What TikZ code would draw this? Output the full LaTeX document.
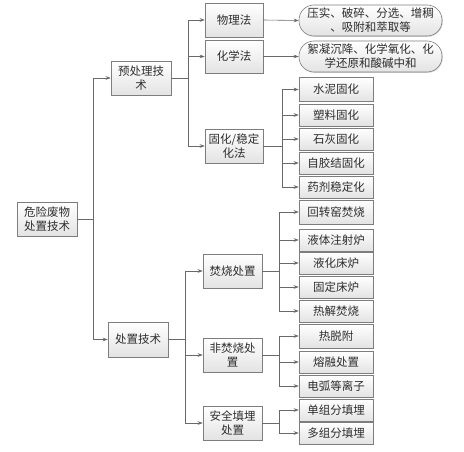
\documentclass[tikz,border=0pt]{standalone}
\usepackage{fontspec}
\newfontfamily\cjk{Noto Sans CJK SC}
\usetikzlibrary{arrows.meta,shadows}
\definecolor{lc}{RGB}{105,105,105}
\definecolor{bc}{RGB}{125,125,125}
\definecolor{tc}{RGB}{45,45,45}
\begin{document}
\begin{tikzpicture}[x=1pt,y=-1pt,
  box/.style={draw=bc, line width=0.6pt, top color=white, bottom color=gray!22,
    text=tc, font=\cjk\fontsize{11.5}{14}\selectfont, align=center, inner sep=0pt,
    drop shadow={shadow xshift=0.8pt, shadow yshift=-0.8pt, fill=gray!45, opacity=0.7}},
  mid/.style={box, minimum width=59pt, minimum height=34pt},
  leaf/.style={box, minimum width=74pt, minimum height=22pt},
  pill/.style={box, rounded corners=15pt, minimum width=143pt, minimum height=31pt},
  conn/.style={draw=lc, line width=0.6pt, -{Stealth[length=5pt,width=3.6pt]}}
]
\useasboundingbox (0,0) rectangle (464,452);

% level 0
\node[mid, minimum width=60pt] (root) at (47,219) {危险废物\\处置技术};

% level 1
\node[mid, minimum width=60pt] (pre) at (141,78) {预处理技\\术};
\node[mid, minimum width=60pt, minimum height=35pt] (disp) at (138,339.5) {处置技术};

% level 2 (pretreatment)
\node[mid, minimum width=58pt] (phys) at (234,20) {物理法};
\node[mid, minimum width=58pt, minimum height=33pt] (chem) at (234,56.5) {化学法};
\node[mid, minimum width=58pt] (solid) at (234,146) {固化/稳定\\化法};

% level 2 (disposal)
\node[mid] (burn) at (232.5,271) {焚烧处置};
\node[mid] (nonburn) at (232.5,355) {非焚烧处\\置};
\node[mid] (land) at (232.5,423) {安全填埋\\处置};

% pills
\node[pill] (p1) at (370.5,20.5) {压实、破碎、分选、增稠\\、吸附和萃取等};
\node[pill] (p2) at (370.5,56.5) {絮凝沉降、化学氧化、化\\学还原和酸碱中和};

% leaves
\node[leaf, minimum height=24pt] (s1) at (336,89.5) {水泥固化};
\node[leaf] (s2) at (336,115) {塑料固化};
\node[leaf] (s3) at (336,139) {石灰固化};
\node[leaf] (s4) at (336,163) {自胶结固化};
\node[leaf] (s5) at (336,187) {药剂稳定化};

\node[leaf, minimum height=24pt] (b1) at (336,212) {回转窑焚烧};
\node[leaf] (b2) at (336,240) {液体注射炉};
\node[leaf] (b3) at (336,263) {液化床炉};
\node[leaf] (b4) at (336,287) {固定床炉};
\node[leaf] (b5) at (336,311) {热解焚烧};

\node[leaf, minimum height=24pt] (n1) at (336,336) {热脱附};
\node[leaf] (n2) at (336,362) {熔融处置};
\node[leaf] (n3) at (336,386) {电弧等离子};

\node[leaf] (l1) at (336,410) {单组分填埋};
\node[leaf] (l2) at (336,433) {多组分填埋};

% connectors
\draw[conn] (root.east) -- ++(16,0) |- (pre.west);
\draw[conn] (root.east) -- ++(16,0) |- (disp.west);

\foreach \t in {phys,chem,solid}
  \draw[conn] (pre.east) -- ++(17,0) |- (\t.west);
\draw[conn] (phys.east) -- (p1.west);
\draw[conn] (chem.east) -- (p2.west);

\foreach \t in {s1,s2,s3,s4,s5}
  \draw[conn] (solid.east) -- ++(19,0) |- (\t.west);

\foreach \t in {burn,nonburn,land}
  \draw[conn] (disp.east) -- ++(17,0) |- (\t.west);

\foreach \t in {b1,b2,b3,b4,b5}
  \draw[conn] (burn.east) -- ++(17,0) |- (\t.west);
\foreach \t in {n1,n2,n3}
  \draw[conn] (nonburn.east) -- ++(17,0) |- (\t.west);
\foreach \t in {l1,l2}
  \draw[conn] (land.east) -- ++(17,0) |- (\t.west);
\end{tikzpicture}
\end{document}
